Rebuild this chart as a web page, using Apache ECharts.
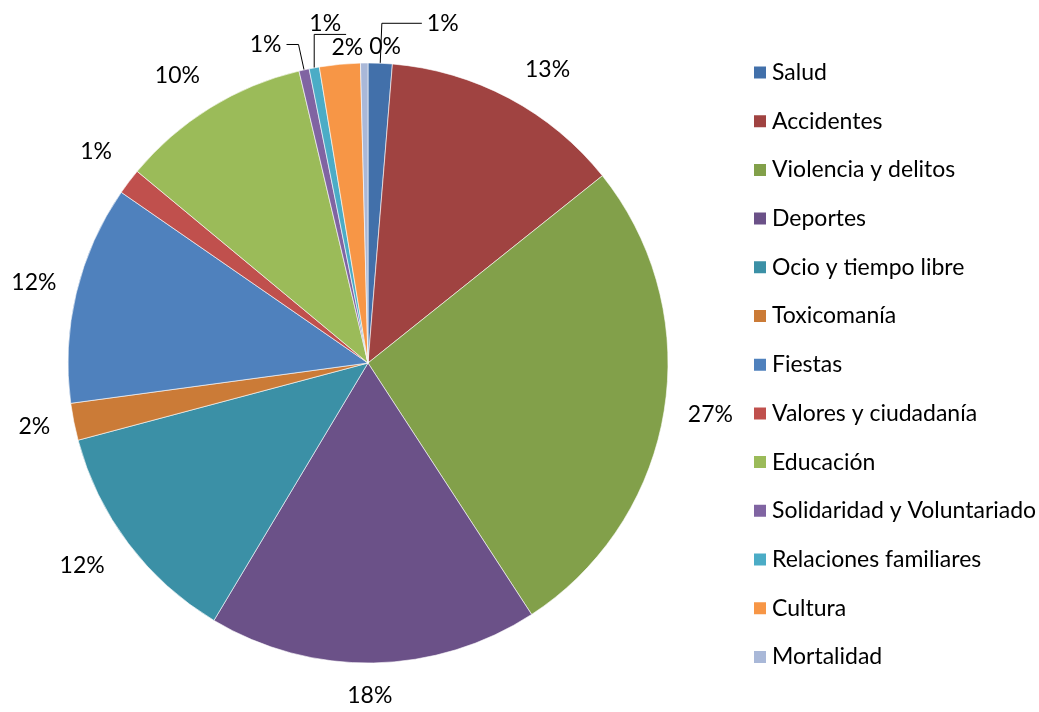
<!DOCTYPE html>
<html>
<head>
<meta charset="utf-8">
<script src="https://cdn.jsdelivr.net/npm/echarts@6/dist/echarts.min.js"></script>
<style>
  html, body { margin: 0; padding: 0; background: #fff; }
  #chart { width: 1039px; height: 712px; }
</style>
</head>
<body>
<div id="chart"></div>
<script>
// categories / values (percent of total)
var categories = ['Salud', 'Accidentes', 'Violencia y delitos', 'Deportes', 'Ocio y tiempo libre',
    'Toxicomanía', 'Fiestas', 'Valores y ciudadanía', 'Educación', 'Solidaridad y Voluntariado',
    'Relaciones familiares', 'Cultura', 'Mortalidad'];
var values = [1.3, 13.0, 26.6, 17.8, 12.3, 2.0, 11.8, 1.4, 10.3, 0.55, 0.55, 2.2, 0.4];
var colors = ['#4270aa', '#a04341', '#82a04a', '#6b5188', '#3b90a6', '#cb7b37', '#4f81bd',
    '#c0504d', '#9bbb59', '#8064a2', '#4bacc6', '#f79646', '#a9b8d8'];

// label placement tweaks, Excel style (length, length2, show line, lift text above line)
var lineTweaks = {
    'Salud': [40, 40, true, false],
    'Accidentes': [32, -4, false, false],
    'Violencia y delitos': [24, -5, false, false],
    'Deportes': [33, -32, false, false],
    'Ocio y tiempo libre': [36, -10, false, false],
    'Toxicomanía': [24, -5, false, false],
    'Fiestas': [44, -28, false, false],
    'Valores y ciudadanía': [49, -27, false, false],
    'Educación': [38, -15, false, false],
    'Solidaridad y Voluntariado': [26, 12, true, false],
    'Relaciones familiares': [34, -38, true, true],
    'Cultura': [17, -30, false, false],
    'Mortalidad': [16, -42, false, false]
};

var total = values.reduce(function (a, b) { return a + b; }, 0);
var FONT = 'Lato';

function pctText(v) {
    return Math.round(v / total * 100) + '%';
}

var chart = echarts.init(document.getElementById('chart'));

var pieData = categories.map(function (name, i) {
    var item = { name: name, value: values[i], itemStyle: { color: colors[i] } };
    var t = lineTweaks[name];
    if (t) {
        item.labelLine = { show: t[2], length: t[0], length2: t[1] };
        if (t[3]) {
            // empty second line so the text sits above the end of its line
            item.label = { lineHeight: 22, formatter: pctText(values[i]) + '\n ' };
        }
    }
    return item;
});

var option = {
    animation: false,
    backgroundColor: '#fff',
    legend: {
        orient: 'vertical',
        left: 752,
        top: 61,
        padding: 0,
        itemWidth: 14,
        itemHeight: 14,
        itemGap: 25.7,
        icon: 'rect',
        textStyle: {
            fontFamily: FONT,
            fontSize: 23,
            color: '#000'
        },
        data: categories
    },
    series: [
        {
            type: 'pie',
            center: [368, 363],
            radius: [0, 300],
            startAngle: 90,
            clockwise: true,
            avoidLabelOverlap: false,
            labelLayout: { hideOverlap: false },
            itemStyle: {
                borderColor: '#fff',
                borderWidth: 0.6
            },
            label: {
                show: true,
                position: 'outside',
                fontFamily: FONT,
                fontSize: 23,
                color: '#000',
                formatter: function (p) {
                    return pctText(p.value);
                }
            },
            labelLine: {
                show: false,
                length: 24,
                length2: 0,
                lineStyle: { color: '#000', width: 1 }
            },
            data: pieData
        }
    ]
};

chart.setOption(option);
</script>
</body>
</html>
